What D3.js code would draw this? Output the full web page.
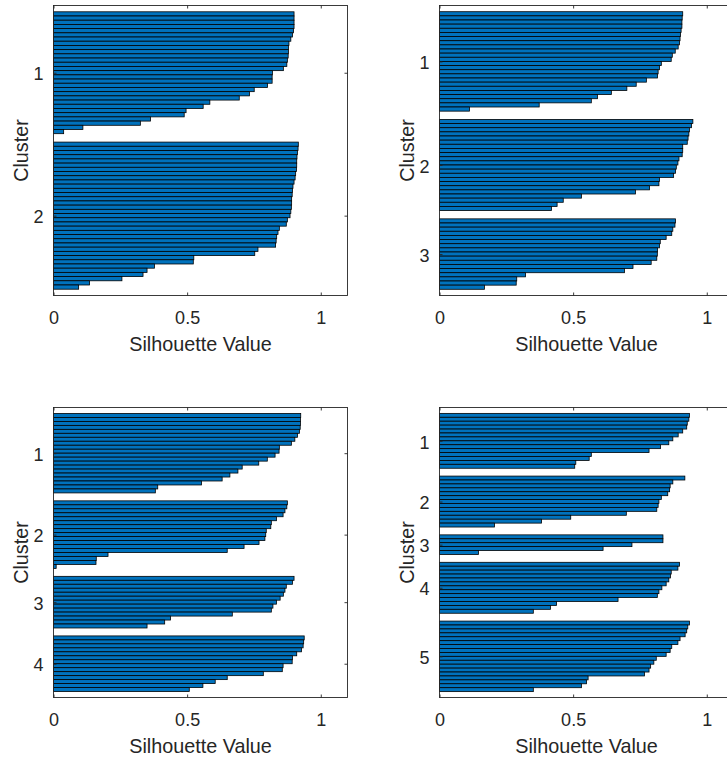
<!DOCTYPE html>
<html>
<head>
<meta charset="utf-8">
<script src="https://cdn.jsdelivr.net/npm/d3@7"></script>
<style>
body { margin: 0; background: #fff; }
svg { display: block; font-family: "Liberation Sans", Arial, Helvetica, sans-serif; }
</style>
</head>
<body>
<svg width="727" height="762"></svg>
<script>
// silhouette values per cluster, sorted high -> low
var silK2 = [
    [0.900, 0.900, 0.900, 0.900, 0.898, 0.894, 0.888, 0.881, 0.879, 0.879, 0.878, 0.875, 0.873, 0.860,
     0.819, 0.818, 0.818, 0.801, 0.751, 0.733, 0.695, 0.585, 0.560, 0.496, 0.489, 0.363, 0.325, 0.110, 0.038],
    [0.916, 0.915, 0.913, 0.911, 0.910, 0.910, 0.909, 0.906, 0.904, 0.900, 0.896, 0.894, 0.893, 0.891,
     0.891, 0.890, 0.888, 0.885, 0.875, 0.871, 0.845, 0.840, 0.835, 0.833, 0.831, 0.765, 0.753, 0.525,
     0.523, 0.378, 0.350, 0.335, 0.256, 0.135, 0.094]
];
var silK3 = [
    [0.910, 0.908, 0.907, 0.907, 0.904, 0.902, 0.900, 0.898, 0.893, 0.882, 0.871, 0.867, 0.830, 0.823,
     0.818, 0.816, 0.774, 0.736, 0.701, 0.643, 0.591, 0.568, 0.373, 0.112],
    [0.948, 0.943, 0.935, 0.933, 0.930, 0.927, 0.910, 0.910, 0.908, 0.896, 0.892, 0.886, 0.883, 0.876,
     0.823, 0.821, 0.786, 0.733, 0.531, 0.463, 0.440, 0.419],
    [0.883, 0.881, 0.873, 0.869, 0.848, 0.826, 0.823, 0.816, 0.815, 0.813, 0.792, 0.724, 0.692, 0.322,
     0.289, 0.287, 0.168]
];
var silK4 = [
    [0.925, 0.924, 0.924, 0.923, 0.920, 0.913, 0.903, 0.890, 0.845, 0.844, 0.829, 0.800, 0.768, 0.706,
     0.690, 0.660, 0.631, 0.554, 0.390, 0.381],
    [0.875, 0.873, 0.866, 0.859, 0.834, 0.815, 0.813, 0.796, 0.794, 0.791, 0.769, 0.713, 0.650, 0.204,
     0.160, 0.159, 0.010],
    [0.900, 0.894, 0.871, 0.866, 0.860, 0.848, 0.834, 0.821, 0.815, 0.669, 0.438, 0.416, 0.350],
    [0.938, 0.936, 0.934, 0.928, 0.910, 0.894, 0.893, 0.859, 0.856, 0.785, 0.650, 0.605, 0.559, 0.508]
];
var silK5 = [
    [0.935, 0.933, 0.927, 0.925, 0.910, 0.893, 0.873, 0.858, 0.827, 0.784, 0.568, 0.560, 0.510, 0.506],
    [0.918, 0.873, 0.863, 0.861, 0.854, 0.830, 0.821, 0.818, 0.813, 0.699, 0.491, 0.382, 0.206],
    [0.836, 0.836, 0.720, 0.612, 0.146],
    [0.898, 0.892, 0.867, 0.864, 0.858, 0.848, 0.832, 0.821, 0.815, 0.668, 0.438, 0.415, 0.351],
    [0.935, 0.929, 0.925, 0.919, 0.900, 0.892, 0.869, 0.863, 0.848, 0.811, 0.802, 0.790, 0.784, 0.767,
     0.556, 0.550, 0.531, 0.351]
];
var xTicks = [0, 0.5, 1];
var xTickLabels = ["0", "0.5", "1"];
var xLabel = "Silhouette Value";
var yLabel = "Cluster";

var ink = "#262626";
var barColor = "#0072BD";
var svg = d3.select("svg");

var axW = 294, axH = 290;
var space = 2;   // empty rows before / between / after clusters

function draw_panel(data, left, top) {
    var k = data.length;
    var n = d3.sum(data, function(c) { return c.length; });
    var total = n + space * (k + 1);

    // lay out bars like matlab's silhouette()
    var bars = [], tcks = [];
    var cnt = 0;
    data.forEach(function(c, i) {
        cnt += space;
        c.forEach(function(v, j) { bars.push({pos: cnt + j + 1, v: v}); });
        tcks.push(cnt + (1 + c.length) / 2);
        cnt += c.length;
    });

    var x = d3.scaleLinear().domain([0, 1.1]).range([0, axW]);
    var y = d3.scaleLinear().domain([1, total]).range([0, axH]);
    var pitch = y(2) - y(1);

    var g = svg.append("g").attr("transform", "translate(" + left + "," + top + ")");

    g.selectAll("rect.bar")
        .data(bars)
        .enter()
        .append("rect")
        .attr("class", "bar")
        .attr("x", x(0))
        .attr("y", function(d) { return y(d.pos) - pitch / 2; })
        .attr("width", function(d) { return x(d.v) - x(0); })
        .attr("height", pitch)
        .attr("fill", barColor)
        .attr("stroke", "#000")
        .attr("stroke-width", 0.8);

    // frame
    g.append("rect")
        .attr("x", 0).attr("y", 0)
        .attr("width", axW).attr("height", axH)
        .attr("fill", "none")
        .attr("stroke", ink)
        .attr("stroke-width", 0.9);

    var yTick = d3.scaleLinear().domain(y.domain()).range(y.range());
    var axes = [
        {gen: d3.axisBottom(x).tickValues(xTicks).tickFormat(function(d, i) { return xTickLabels[i]; }), tr: "translate(0," + axH + ")", lab: true},
        {gen: d3.axisTop(x).tickValues(xTicks).tickFormat(""), tr: "translate(0,0)"},
        {gen: d3.axisLeft(yTick).tickValues(tcks).tickFormat(function(d, i) { return String(i + 1); }), tr: "translate(0,0)", lab: true},
        {gen: d3.axisRight(yTick).tickValues(tcks).tickFormat(""), tr: "translate(" + axW + ",0)"}
    ];
    axes.forEach(function(a, ai) {
        var ag = g.append("g")
            .attr("transform", a.tr)
            .call(a.gen.tickSizeInner(-3).tickSizeOuter(0));
        ag.select(".domain").remove();
        ag.selectAll(".tick line").attr("stroke", ink).attr("stroke-width", 0.9);
        ag.selectAll(".tick text")
            .attr("fill", ink)
            .style("font-size", "18px")
            .style("font-family", "'Liberation Sans', Arial, Helvetica, sans-serif");
        if (ai == 0) {
            ag.selectAll(".tick text").attr("y", 28).attr("dy", null);
        }
        if (ai == 2) {
            ag.selectAll(".tick text").attr("x", -10).attr("dy", "0.4em");
        }
    });

    g.append("text")
        .attr("x", axW / 2)
        .attr("y", axH + 55.5)
        .attr("text-anchor", "middle")
        .attr("fill", ink)
        .style("font-size", "19.8px")
        .text(xLabel);

    g.append("text")
        .attr("transform", "translate(-25.3," + (axH / 2) + ") rotate(-90)")
        .attr("text-anchor", "middle")
        .attr("fill", ink)
        .style("font-size", "19.8px")
        .text(yLabel);
}

draw_panel(silK2, 53.5, 5.5);
draw_panel(silK3, 439.5, 5.5);
draw_panel(silK4, 53.5, 407.5);
draw_panel(silK5, 439.5, 407.5);
</script>
</body>
</html>
